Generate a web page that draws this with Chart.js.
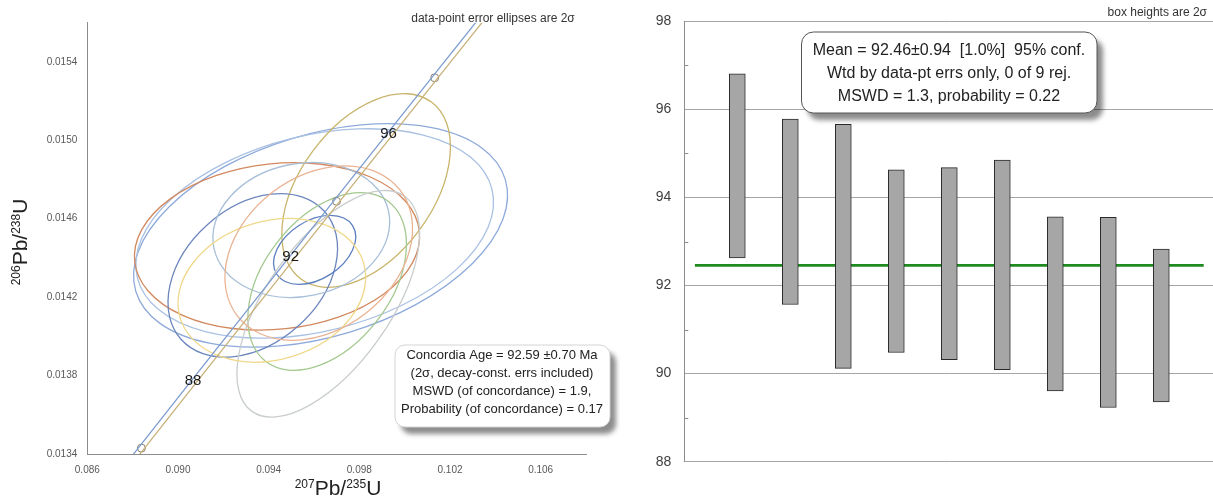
<!DOCTYPE html>
<html>
<head>
<meta charset="utf-8">
<title>U-Pb concordia and weighted mean</title>
<script src="https://cdn.jsdelivr.net/npm/chart.js@4.4.1/dist/chart.umd.min.js"></script>
<style>
    html, body { margin: 0; padding: 0; background: #fff; }
    body { width: 1213px; height: 497px; overflow: hidden; position: relative; }
    #concordia { position: absolute; left: 0; top: 0; }
    #wtdmean { position: absolute; left: 620px; top: 0; }
</style>
</head>
<body>
<canvas id="concordia" width="620" height="497"></canvas>
<canvas id="wtdmean" width="596" height="497"></canvas>
<script>
// =========================================================
// DATA - concordia panel
// =========================================================
const concAges = [84, 86, 88, 90, 92, 94, 96, 98, 100];
const concX = [0.086246, 0.088387, 0.090533, 0.092683, 0.094838, 0.096996, 0.099159, 0.101326, 0.103498];
const concY = [0.013116, 0.013430, 0.013745, 0.014059, 0.014374, 0.014689, 0.015004, 0.015319, 0.015633];
const bandXLeft = [0.086106, 0.088247, 0.090393, 0.092543, 0.094698, 0.096856, 0.099019, 0.101186, 0.103358];
const bandXRight = [0.086386, 0.088527, 0.090673, 0.092823, 0.094978, 0.097136, 0.099299, 0.101466, 0.103638];
const markerAges = [86, 94, 98];
const labelAges = [88, 92, 96];

// error ellipses (2 sigma): centre, half-widths, correlation
const ellX   = [0.09629, 0.09603, 0.09437, 0.09830, 0.09330, 0.09603, 0.09544, 0.09658, 0.09663, 0.09414, 0.09621];
const ellY   = [0.014515, 0.014525, 0.014459, 0.014744, 0.014311, 0.014441, 0.014543, 0.014280, 0.014166, 0.014235, 0.014425];
const ellSx  = [0.00825, 0.00789, 0.00629, 0.00372, 0.00374, 0.00181, 0.00390, 0.00350, 0.00403, 0.00414, 0.00414];
const ellSy  = [0.000570, 0.000534, 0.000427, 0.000494, 0.000417, 0.000176, 0.000344, 0.000453, 0.000578, 0.000366, 0.000445];
const ellRho = [0.36, 0.30, 0.12, 0.45, 0.33, 0.38, 0.12, 0.42, 0.62, 0.18, 0.28];
const ellColors = ['#8eaadb', '#a9c1e3', '#d2895f', '#c8b46a', '#6c86bd', '#5d7fc0',
                   '#a7bfd8', '#a3c98f', '#c9cdcd', '#f0d88a', '#eab393'];

const ratio207Ticks = [0.086, 0.090, 0.094, 0.098, 0.102, 0.106];
const ratio206Ticks = [0.0134, 0.0138, 0.0142, 0.0146, 0.0150, 0.0154];

const concordiaNote = [
    'Concordia Age = 92.59 \u00b10.70 Ma',
    '(2\u03c3, decay-const. errs included)',
    'MSWD (of concordance) = 1.9,',
    'Probability (of concordance) = 0.17'
];

// =========================================================
// DATA - weighted mean panel
// =========================================================
const sampleNo = [1, 2, 3, 4, 5, 6, 7, 8, 9];
const boxHigh = [96.81, 95.78, 95.66, 94.63, 94.68, 94.85, 93.56, 93.55, 92.83];
const boxLow  = [92.63, 91.57, 90.12, 90.48, 90.32, 90.09, 89.61, 89.23, 89.36];
const meanAge = 92.46;
const meanSpan = [0.2, 9.8];
const ageTicks = [88, 90, 92, 94, 96, 98];
const ageMinorTicks = [89, 91, 93, 95, 97];

const meanNote = [
    'Mean = 92.46\u00b10.94  [1.0%]  95% conf.',
    'Wtd by data-pt errs only, 0 of 9 rej.',
    'MSWD = 1.3, probability = 0.22'
];

Chart.defaults.font.family = "'Liberation Sans', Arial, sans-serif";
Chart.defaults.animation = false;

function ageIndex(age) {
    return concAges.indexOf(age);
}

// text with superscript parts, e.g. 206Pb/238U
function drawSupText(ctx, parts, x, y, rotate) {
    const mainFont = "21px 'Liberation Sans', Arial, sans-serif";
    const supFont = "12px 'Liberation Sans', Arial, sans-serif";
    ctx.save();
    ctx.translate(x, y);
    if (rotate) ctx.rotate(-Math.PI / 2);
    ctx.fillStyle = '#222';
    ctx.textAlign = 'left';
    ctx.textBaseline = 'alphabetic';
    let total = 0;
    parts.forEach(function (p) {
        ctx.font = p[1] ? supFont : mainFont;
        total += ctx.measureText(p[0]).width;
    });
    let cx = -total / 2;
    parts.forEach(function (p) {
        ctx.font = p[1] ? supFont : mainFont;
        ctx.fillText(p[0], cx, p[1] ? -7 : 0);
        cx += ctx.measureText(p[0]).width;
    });
    ctx.restore();
}

function drawNoteBox(ctx, x, y, w, h, r, borderColor, lines, font, textX, lineY, lineGap) {
    ctx.save();
    ctx.shadowColor = 'rgba(0,0,0,0.45)';
    ctx.shadowOffsetX = 6;
    ctx.shadowOffsetY = 7;
    ctx.shadowBlur = 5;
    ctx.beginPath();
    ctx.roundRect(x, y, w, h, r);
    ctx.fillStyle = '#fff';
    ctx.fill();
    ctx.restore();

    ctx.save();
    ctx.beginPath();
    ctx.roundRect(x, y, w, h, r);
    ctx.strokeStyle = borderColor;
    ctx.lineWidth = 1;
    ctx.stroke();
    ctx.font = font;
    ctx.fillStyle = '#222';
    ctx.textAlign = 'center';
    ctx.textBaseline = 'middle';
    lines.forEach(function (t, i) {
        ctx.fillText(t, textX, lineY + i * lineGap);
    });
    ctx.restore();
}

// =========================================================
// CONCORDIA PLOT
// =========================================================
const ellipsePlugin = {
    id: 'ellipses',
    beforeDatasetsDraw: function (chart) {
        const ctx = chart.ctx;
        const xs = chart.scales.x;
        const ys = chart.scales.y;
        const area = chart.chartArea;
        ctx.save();
        ctx.beginPath();
        ctx.rect(area.left, area.top, area.right - area.left, area.bottom - area.top);
        ctx.clip();
        ellX.forEach(function (cxv, i) {
            const px = xs.getPixelForValue(cxv);
            const py = ys.getPixelForValue(ellY[i]);
            const Sx = Math.abs(xs.getPixelForValue(cxv + ellSx[i]) - px);
            const Sy = Math.abs(ys.getPixelForValue(ellY[i] + ellSy[i]) - py);
            const A = Sx * Sx, D = Sy * Sy, C = -ellRho[i] * Sx * Sy;
            const mid = (A + D) / 2;
            const rad = Math.sqrt(((A - D) / 2) * ((A - D) / 2) + C * C);
            const angle = 0.5 * Math.atan2(2 * C, A - D);
            ctx.beginPath();
            ctx.ellipse(px, py, Math.sqrt(mid + rad), Math.sqrt(Math.max(mid - rad, 0)), angle, 0, Math.PI * 2);
            ctx.strokeStyle = ellColors[i];
            ctx.lineWidth = 1.3;
            ctx.stroke();
        });
        ctx.restore();
    },
    afterDraw: function (chart) {
        const ctx = chart.ctx;
        const xs = chart.scales.x;
        const ys = chart.scales.y;

        // age labels on the concordia
        ctx.save();
        ctx.font = "15px 'Liberation Sans', Arial, sans-serif";
        ctx.fillStyle = '#1a1a1a';
        ctx.textAlign = 'center';
        ctx.textBaseline = 'middle';
        labelAges.forEach(function (age) {
            const k = ageIndex(age);
            ctx.fillText(String(age), xs.getPixelForValue(concX[k]) + 3, ys.getPixelForValue(concY[k]) - 6);
        });
        ctx.font = "12px 'Liberation Sans', Arial, sans-serif";
        ctx.fillStyle = '#333';
        ctx.fillText('data-point error ellipses are 2\u03c3', 493, 19);
        ctx.restore();

        drawSupText(ctx, [['207', true], ['Pb/', false], ['235', true], ['U', false]], 338, 495, false);
        drawSupText(ctx, [['206', true], ['Pb/', false], ['238', true], ['U', false]], 27, 242, true);

        drawNoteBox(ctx, 395, 345, 215, 82, 10, '#d4d4d4', concordiaNote,
            "13px 'Liberation Sans', Arial, sans-serif", 502, 355, 18);
    }
};

const concordiaChart = new Chart(document.getElementById('concordia'), {
    type: 'scatter',
    data: {
        datasets: [
            {
                data: concAges.map(function (a, i) { return { x: bandXLeft[i], y: concY[i] }; }),
                showLine: true,
                borderColor: '#7d9ccf',
                borderWidth: 1.3,
                pointRadius: 0
            },
            {
                data: concAges.map(function (a, i) { return { x: bandXRight[i], y: concY[i] }; }),
                showLine: true,
                borderColor: '#c8b27a',
                borderWidth: 1.3,
                pointRadius: 0
            },
            {
                data: markerAges.map(function (a) {
                    const k = ageIndex(a);
                    return { x: concX[k], y: concY[k] };
                }),
                pointRadius: 4,
                pointBackgroundColor: 'rgba(0,0,0,0)',
                pointBorderColor: '#8a8270',
                pointBorderWidth: 1
            }
        ]
    },
    options: {
        responsive: false,
        layout: { padding: { top: 22.7, right: 34, left: 0, bottom: 0 } },
        plugins: { legend: { display: false }, tooltip: { enabled: false } },
        scales: {
            x: {
                type: 'linear',
                min: 0.086,
                max: 0.108,
                afterBuildTicks: function (scale) {
                    scale.ticks = ratio207Ticks.map(function (v) { return { value: v }; });
                },
                afterFit: function (scale) { scale.height = 43; },
                grid: { color: 'rgba(0,0,0,0)', drawTicks: false },
                border: { display: true, color: '#8c8c8c', width: 1 },
                ticks: {
                    padding: 10,
                    color: '#595959',
                    font: { size: 10 },
                    maxRotation: 0,
                    callback: function (v) { return Number(v).toFixed(3); }
                }
            },
            y: {
                type: 'linear',
                min: 0.0134,
                max: 0.0156,
                afterBuildTicks: function (scale) {
                    scale.ticks = ratio206Ticks.map(function (v) { return { value: v }; });
                },
                afterFit: function (scale) { scale.width = 87.3; },
                grid: { color: 'rgba(0,0,0,0)', drawTicks: false },
                border: { display: true, color: '#8c8c8c', width: 1 },
                ticks: {
                    padding: 10,
                    color: '#595959',
                    font: { size: 10 },
                    callback: function (v) { return Number(v).toFixed(4); }
                }
            }
        }
    },
    plugins: [ellipsePlugin]
});

// =========================================================
// WEIGHTED MEAN PLOT
// =========================================================
const meanPlugin = {
    id: 'meanExtras',
    afterDraw: function (chart) {
        const ctx = chart.ctx;
        const ys = chart.scales.y;
        const left = chart.chartArea.left;

        ctx.save();
        ctx.strokeStyle = '#8c8c8c';
        ctx.lineWidth = 1;
        ageMinorTicks.forEach(function (v) {
            const py = Math.round(ys.getPixelForValue(v)) + 0.5;
            ctx.beginPath();
            ctx.moveTo(left, py);
            ctx.lineTo(left + 4, py);
            ctx.stroke();
        });
        ctx.font = "12px 'Liberation Sans', Arial, sans-serif";
        ctx.fillStyle = '#333';
        ctx.textAlign = 'right';
        ctx.textBaseline = 'middle';
        ctx.fillText('box heights are 2\u03c3', 587, 13);
        ctx.restore();

        drawNoteBox(ctx, 181.5, 32, 295.5, 81, 12, '#555', meanNote,
            "16px 'Liberation Sans', Arial, sans-serif", 329, 50.7, 22.7);
    }
};

const meanChart = new Chart(document.getElementById('wtdmean'), {
    type: 'bar',
    data: {
        datasets: [
            {
                type: 'bar',
                data: sampleNo.map(function (n, i) { return { x: n, y: [boxLow[i], boxHigh[i]] }; }),
                backgroundColor: '#a6a6a6',
                borderColor: '#2a2a2a',
                borderWidth: 1,
                borderSkipped: false,
                barThickness: 16
            },
            {
                type: 'line',
                data: meanSpan.map(function (x) { return { x: x, y: meanAge }; }),
                borderColor: '#1f8a1f',
                borderWidth: 2.6,
                pointRadius: 0
            }
        ]
    },
    options: {
        responsive: false,
        layout: { padding: { top: 20, right: 1.7, left: 0, bottom: 35.3 } },
        plugins: { legend: { display: false }, tooltip: { enabled: false } },
        scales: {
            x: {
                type: 'linear',
                min: 0,
                max: 10,
                offset: false,
                display: false
            },
            y: {
                type: 'linear',
                min: 88,
                max: 98,
                afterBuildTicks: function (scale) {
                    scale.ticks = ageTicks.map(function (v) { return { value: v }; });
                },
                afterFit: function (scale) { scale.width = 64.3; },
                grid: { color: '#a6a6a6', drawTicks: false },
                border: { display: true, color: '#8c8c8c', width: 1 },
                ticks: {
                    padding: 13,
                    color: '#404040',
                    font: { size: 14 }
                }
            }
        }
    },
    plugins: [meanPlugin]
});
</script>
</body>
</html>
